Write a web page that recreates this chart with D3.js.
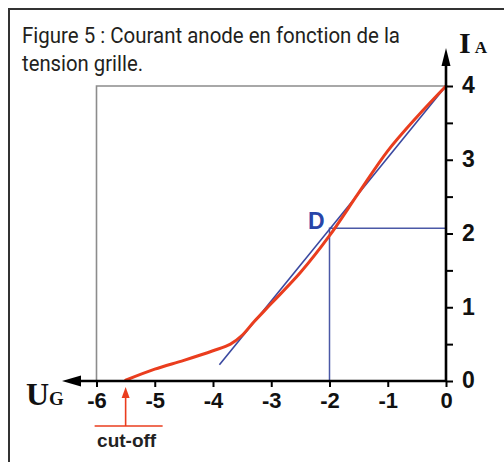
<!DOCTYPE html>
<html>
<head>
<meta charset="utf-8">
<script src="https://cdn.jsdelivr.net/npm/d3@7/dist/d3.min.js"></script>
<style>
  html, body { margin: 0; padding: 0; background: #fff; }
  svg { display: block; }
</style>
</head>
<body>
<svg id="chart" width="504" height="462"></svg>
<script>
// Grid voltage (UG, volts) and anode current (IA) of the tube characteristic
const ugTicks = [-6, -5, -4, -3, -2, -1, 0];
const iaTicks = [0, 1, 2, 3, 4];
const iaMinorTicks = [0, 0.5, 1, 1.5, 2, 2.5, 3, 3.5, 4];
const curveUg = [-5.5, -5.0, -4.5, -4.0, -3.7, -3.5, -3.3, -3.0, -2.5, -2.0, -1.5, -1.0, -0.5, 0];
const curveIa = [0.01, 0.16, 0.28, 0.41, 0.5, 0.62, 0.8, 1.05, 1.47, 1.97, 2.55, 3.12, 3.58, 4.0];
const tangentUg = [-3.89, 0];
const tangentIa = [0.22, 4.0];
const pointD = { ug: -2, ia: 2.07, label: "D" };
const cutOffUg = -5.5;
const titleLines = ["Figure 5 : Courant anode en fonction de la", "tension grille."];

const svg = d3.select("#chart");
const x = d3.scaleLinear().domain([-6, 0]).range([96.5, 446]);
const y = d3.scaleLinear().domain([0, 4]).range([381, 86]);

// frame around the figure
svg.append("rect")
  .attr("x", 9).attr("y", 9).attr("width", 520).attr("height", 480)
  .attr("fill", "none").attr("stroke", "#333").attr("stroke-width", 2);

// title
svg.append("g").selectAll("text").data(titleLines).join("text")
  .attr("x", 22).attr("y", (d, i) => 43 + i * 28)
  .attr("textLength", (d, i) => i === 0 ? 378 : 121)
  .attr("lengthAdjust", "spacingAndGlyphs")
  .attr("font-family", "Roboto, 'Open Sans', sans-serif")
  .attr("font-size", 22).attr("fill", "#231f20")
  .text(d => d);

// grey bounding box of the working range
svg.append("path")
  .attr("d", `M${x(-6)},${y(0)}V${y(4)}H${x(0)}`)
  .attr("fill", "none").attr("stroke", "#8c8c8c").attr("stroke-width", 1.6);

// projection lines of point D
svg.append("path")
  .attr("d", `M${x(pointD.ug)},${y(0)}V${y(pointD.ia)}H${x(0)}`)
  .attr("fill", "none").attr("stroke", "#4a58a6").attr("stroke-width", 1.5);

// tangent line
svg.append("line")
  .attr("x1", x(tangentUg[0])).attr("y1", y(tangentIa[0]))
  .attr("x2", x(tangentUg[1])).attr("y2", y(tangentIa[1]))
  .attr("stroke", "#3a48a0").attr("stroke-width", 1.6);

// characteristic curve
const pts = curveUg.map((u, i) => [u, curveIa[i]]);
svg.append("path")
  .datum(pts)
  .attr("d", d3.line().x(d => x(d[0])).y(d => y(d[1])).curve(d3.curveCatmullRom.alpha(0.5)))
  .attr("fill", "none").attr("stroke", "#ea3d1e").attr("stroke-width", 3)
  .attr("stroke-linecap", "round");

// D label
svg.append("text")
  .attr("x", x(pointD.ug) - 5).attr("y", y(pointD.ia) + 1)
  .attr("text-anchor", "end")
  .attr("font-family", "'Liberation Sans', Arial, sans-serif").attr("font-weight", "bold")
  .attr("font-size", 23).attr("fill", "#2845a8")
  .text(pointD.label);

// horizontal axis (UG), pointing left
const xAxis = d3.axisBottom(x).tickValues(ugTicks).tickSize(6).tickPadding(5)
  .tickFormat(d => d === 0 ? "0" : "-" + Math.abs(d));
const gx = svg.append("g").attr("transform", `translate(0,${y(0)})`).call(xAxis);
gx.select(".domain").remove();
gx.selectAll(".tick line").attr("stroke", "#000").attr("stroke-width", 2);
gx.selectAll(".tick text")
  .attr("font-family", "'Liberation Sans', Arial, sans-serif").attr("font-weight", "bold")
  .attr("font-size", 22).attr("fill", "#111");
svg.append("line")
  .attr("x1", 76).attr("y1", y(0)).attr("x2", x(0) + 1).attr("y2", y(0))
  .attr("stroke", "#000").attr("stroke-width", 2.6);
svg.append("path")
  .attr("d", `M62,${y(0)}L81,${y(0) - 5.5}L81,${y(0) + 5.5}Z`)
  .attr("fill", "#000");

// vertical axis (IA), pointing up
const yAxis = d3.axisRight(y).tickValues(iaMinorTicks).tickSize(7)
  .tickFormat(d => Number.isInteger(d) ? d : "");
const gy = svg.append("g").attr("transform", `translate(${x(0)},0)`).call(yAxis);
gy.select(".domain").remove();
gy.selectAll(".tick line").attr("stroke", "#000").attr("stroke-width", 2);
gy.selectAll(".tick text")
  .attr("x", 16).attr("dy", "0.3em")
  .attr("font-family", "'Liberation Sans', Arial, sans-serif").attr("font-weight", "bold")
  .attr("font-size", 23).attr("fill", "#111");
svg.append("line")
  .attr("x1", x(0)).attr("y1", y(0) + 1).attr("x2", x(0)).attr("y2", 60)
  .attr("stroke", "#000").attr("stroke-width", 2.6);
svg.append("path")
  .attr("d", `M${x(0)},48L${x(0) - 4.5},66L${x(0) + 4.5},66Z`)
  .attr("fill", "#000");

// axis names
const ia = svg.append("text").attr("x", 459).attr("y", 53)
  .attr("font-family", "'Liberation Serif', 'Times New Roman', serif").attr("font-weight", "bold")
  .attr("fill", "#111");
ia.append("tspan").attr("font-size", 30).text("I");
ia.append("tspan").attr("font-size", 17).attr("dx", 4).text("A");

const ug = svg.append("text").attr("x", 26).attr("y", 405)
  .attr("font-family", "'Liberation Serif', 'Times New Roman', serif").attr("font-weight", "bold")
  .attr("fill", "#111");
ug.append("tspan").attr("font-size", 32).text("U");
ug.append("tspan").attr("font-size", 19).text("G");

// cut-off marker
const cx = x(cutOffUg);
svg.append("line")
  .attr("x1", cx).attr("y1", 426).attr("x2", cx).attr("y2", 396)
  .attr("stroke", "#ea3d1e").attr("stroke-width", 1.6);
svg.append("path")
  .attr("d", `M${cx},387L${cx - 4},398L${cx + 4},398Z`)
  .attr("fill", "#ea3d1e");
svg.append("line")
  .attr("x1", cx - 31).attr("y1", 426).attr("x2", cx + 37).attr("y2", 426)
  .attr("stroke", "#ea3d1e").attr("stroke-width", 1.6);
svg.append("text")
  .attr("x", cx + 1).attr("y", 447).attr("text-anchor", "middle")
  .attr("font-family", "'Liberation Sans', Arial, sans-serif").attr("font-weight", "bold")
  .attr("font-size", 19).attr("fill", "#222")
  .text("cut-off");
</script>
</body>
</html>
